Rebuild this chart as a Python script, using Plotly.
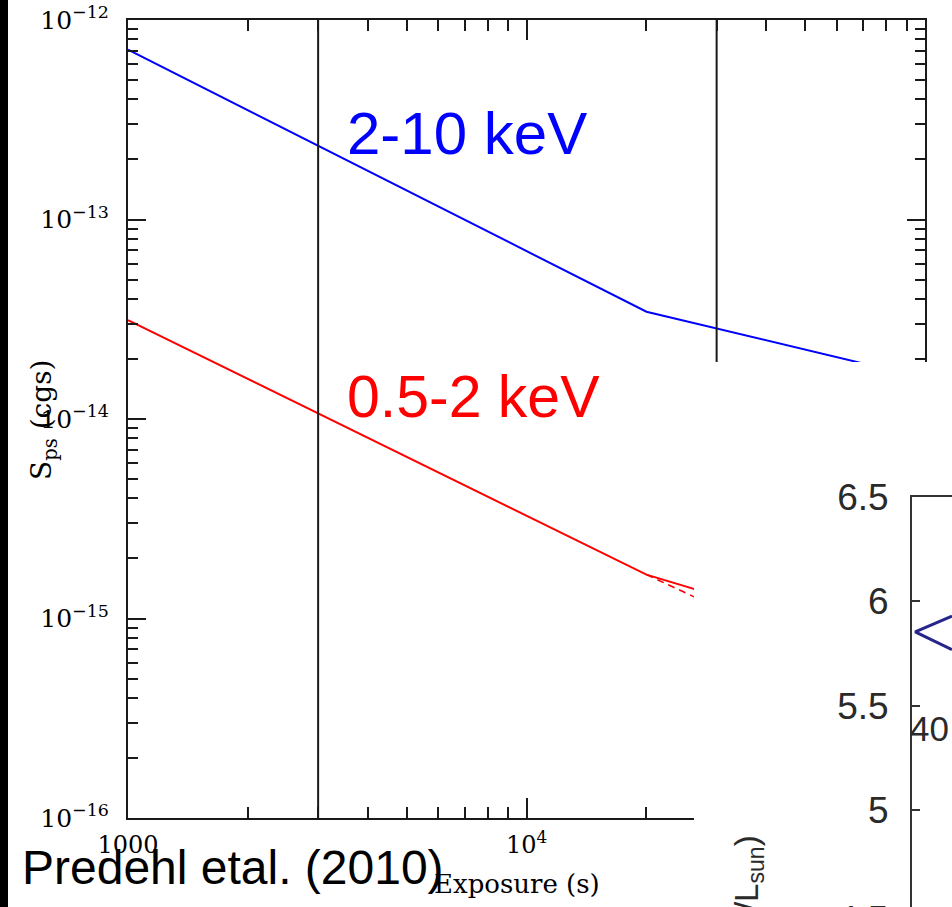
import plotly.graph_objects as go

# Point-source flux limit versus exposure time (log-log)
band_hard_x = [1000, 20000, 100000]
band_hard_y = [7.1e-13, 3.45e-14, 1.6e-14]

band_soft_x = [1000, 20000, 100000]
band_soft_y = [3.13e-14, 1.66e-15, 6.3e-16]

band_soft_alt_x = [20000, 100000]
band_soft_alt_y = [1.66e-15, 3.7e-16]

exposure_marks = [3000, 30000]

x_tickvals = [1000, 10000]
x_ticktext = ["1000", "10<sup>4</sup>"]
x_minor = [2000, 3000, 4000, 5000, 6000, 7000, 8000, 9000,
           20000, 30000, 40000, 50000, 60000, 70000, 80000, 90000]

y_tickvals = [1e-16, 1e-15, 1e-14, 1e-13, 1e-12]
y_ticktext = ["10<sup>\u221216</sup>", "10<sup>\u221215</sup>", "10<sup>\u221214</sup>",
              "10<sup>\u221213</sup>", "10<sup>\u221212</sup>"]
y_minor = [m * 10.0 ** e for e in (-16, -15, -14, -13) for m in range(2, 10)]

# Inset panel (luminosity axis)
inset_x = [1.0, 0.08, 1.0]
inset_y = [5.93, 5.855, 5.77]
inset_tickvals = [5.0, 5.5, 6.0, 6.5]
inset_ticktext = ["5", "5.5", "6", "6.5"]

W, H = 952, 907


def px(x):
    return x / W


def py(y):
    return (H - y) / H


fig = go.Figure()

fig.add_trace(go.Scatter(x=band_hard_x, y=band_hard_y, mode="lines",
                         line=dict(color="#0000ff", width=2), showlegend=False))
fig.add_trace(go.Scatter(x=band_soft_x, y=band_soft_y, mode="lines",
                         line=dict(color="#ff0000", width=2), showlegend=False))
fig.add_trace(go.Scatter(x=band_soft_alt_x, y=band_soft_alt_y, mode="lines",
                         line=dict(color="#ff0000", width=1.6, dash="7px,5px"), showlegend=False))
for xm in exposure_marks:
    fig.add_trace(go.Scatter(x=[xm, xm], y=[1e-16, 1e-12], mode="lines",
                             line=dict(color="#1a1a1a", width=2), showlegend=False))

# empty panel over the lower-right corner (its white background hides the main plot there)
fig.add_trace(go.Scatter(x=[], y=[], mode="lines", xaxis="x2", yaxis="y2", showlegend=False))

# inset curve
fig.add_trace(go.Scatter(x=inset_x, y=inset_y, mode="lines", xaxis="x3", yaxis="y3",
                         line=dict(color="#25258c", width=3), showlegend=False))

serif = "DejaVu Serif"
sans = "Liberation Sans"

fig.update_layout(
    width=W, height=H,
    margin=dict(l=0, r=0, t=0, b=0, autoexpand=False),
    paper_bgcolor="white", plot_bgcolor="white",
    showlegend=False,
    xaxis=dict(
        type="log", range=[3, 5], domain=[px(128), px(925)], automargin=False,
        showline=True, mirror="allticks", linecolor="#1a1a1a", linewidth=2,
        ticks="inside", ticklen=20, tickwidth=1.8, tickcolor="#1a1a1a",
        tickmode="array", tickvals=x_tickvals, ticktext=x_ticktext,
        tickfont=dict(family=serif, size=24, color="black"),
        ticklabelstandoff=4,
        minor=dict(ticks="inside", ticklen=11, tickwidth=1.8, tickcolor="#1a1a1a",
                   tickmode="array", tickvals=x_minor, showgrid=False),
        showgrid=False, zeroline=False, anchor="y",
    ),
    yaxis=dict(
        type="log", range=[-16, -12], domain=[py(818), py(20)], automargin=False,
        showline=True, mirror="allticks", linecolor="#1a1a1a", linewidth=2,
        ticks="inside", ticklen=18, tickwidth=1.8, tickcolor="#1a1a1a",
        tickmode="array", tickvals=y_tickvals, ticktext=y_ticktext,
        tickfont=dict(family=serif, size=25, color="black"),
        ticklabelstandoff=12,
        minor=dict(ticks="inside", ticklen=10, tickwidth=1.8, tickcolor="#1a1a1a",
                   tickmode="array", tickvals=y_minor, showgrid=False),
        showgrid=False, zeroline=False, anchor="x",
    ),
    xaxis2=dict(domain=[px(694), 1.0], anchor="y2", visible=False, range=[0, 1],
                automargin=False),
    yaxis2=dict(domain=[0.0, py(362)], anchor="x2", visible=False, range=[0, 1],
                automargin=False),
    # inset luminosity panel
    xaxis3=dict(domain=[px(912), 1.0], anchor="y3", side="top", range=[0, 1],
                automargin=False,
                showline=True, linecolor="#333333", linewidth=2,
                showticklabels=False, ticks="", showgrid=False, zeroline=False),
    yaxis3=dict(domain=[0.0, py(497)], anchor="x3", range=[4.538, 6.5],
                automargin=False,
                showline=True, linecolor="#333333", linewidth=2,
                ticks="inside", ticklen=8, tickwidth=1.5, tickcolor="#333333",
                tickmode="array", tickvals=inset_tickvals, ticktext=inset_ticktext,
                tickfont=dict(family=sans, size=37, color="#2a2a2a"),
                ticklabelstandoff=14,
                showgrid=False, zeroline=False),
)

annotations = [
    dict(text="2-10 keV", x=px(345), y=py(133), xanchor="left", yanchor="middle",
         font=dict(family=sans, size=60, color="#0000ff")),
    dict(text="0.5-2 keV", x=px(345), y=py(397), xanchor="left", yanchor="middle",
         font=dict(family=sans, size=59, color="#ff0000")),
    dict(text="Exposure (s)", x=px(517), y=py(884), xanchor="center", yanchor="middle",
         font=dict(family=serif, size=26, color="black")),
    dict(text="S<sub>ps</sub> (cgs)", x=px(43), y=py(420), xanchor="center", yanchor="middle",
         textangle=-90, font=dict(family=serif, size=28, color="black")),
    dict(text="Predehl etal. (2010)", x=px(20), y=py(867), xanchor="left", yanchor="middle",
         font=dict(family=sans, size=48, color="black")),
    dict(text="40", x=px(908), y=py(728), xanchor="left", yanchor="middle",
         font=dict(family=sans, size=35, color="#2a2a2a")),
    dict(text="4.5", x=px(890), y=py(920), xanchor="right", yanchor="middle",
         font=dict(family=sans, size=37, color="#2a2a2a")),
    dict(text="log(L/L<sub>sun</sub>)", x=px(748), y=py(834), xanchor="center", yanchor="top",
         textangle=-90, font=dict(family=sans, size=33, color="#2a2a2a")),
]
for a in annotations:
    a.update(xref="paper", yref="paper", showarrow=False)
fig.update_layout(annotations=annotations)

# dark strip along the left edge
fig.add_shape(type="rect", xref="paper", yref="paper", x0=0, x1=px(8), y0=0, y1=1,
              fillcolor="black", line=dict(width=0), layer="above")

fig.write_html("out.html")
